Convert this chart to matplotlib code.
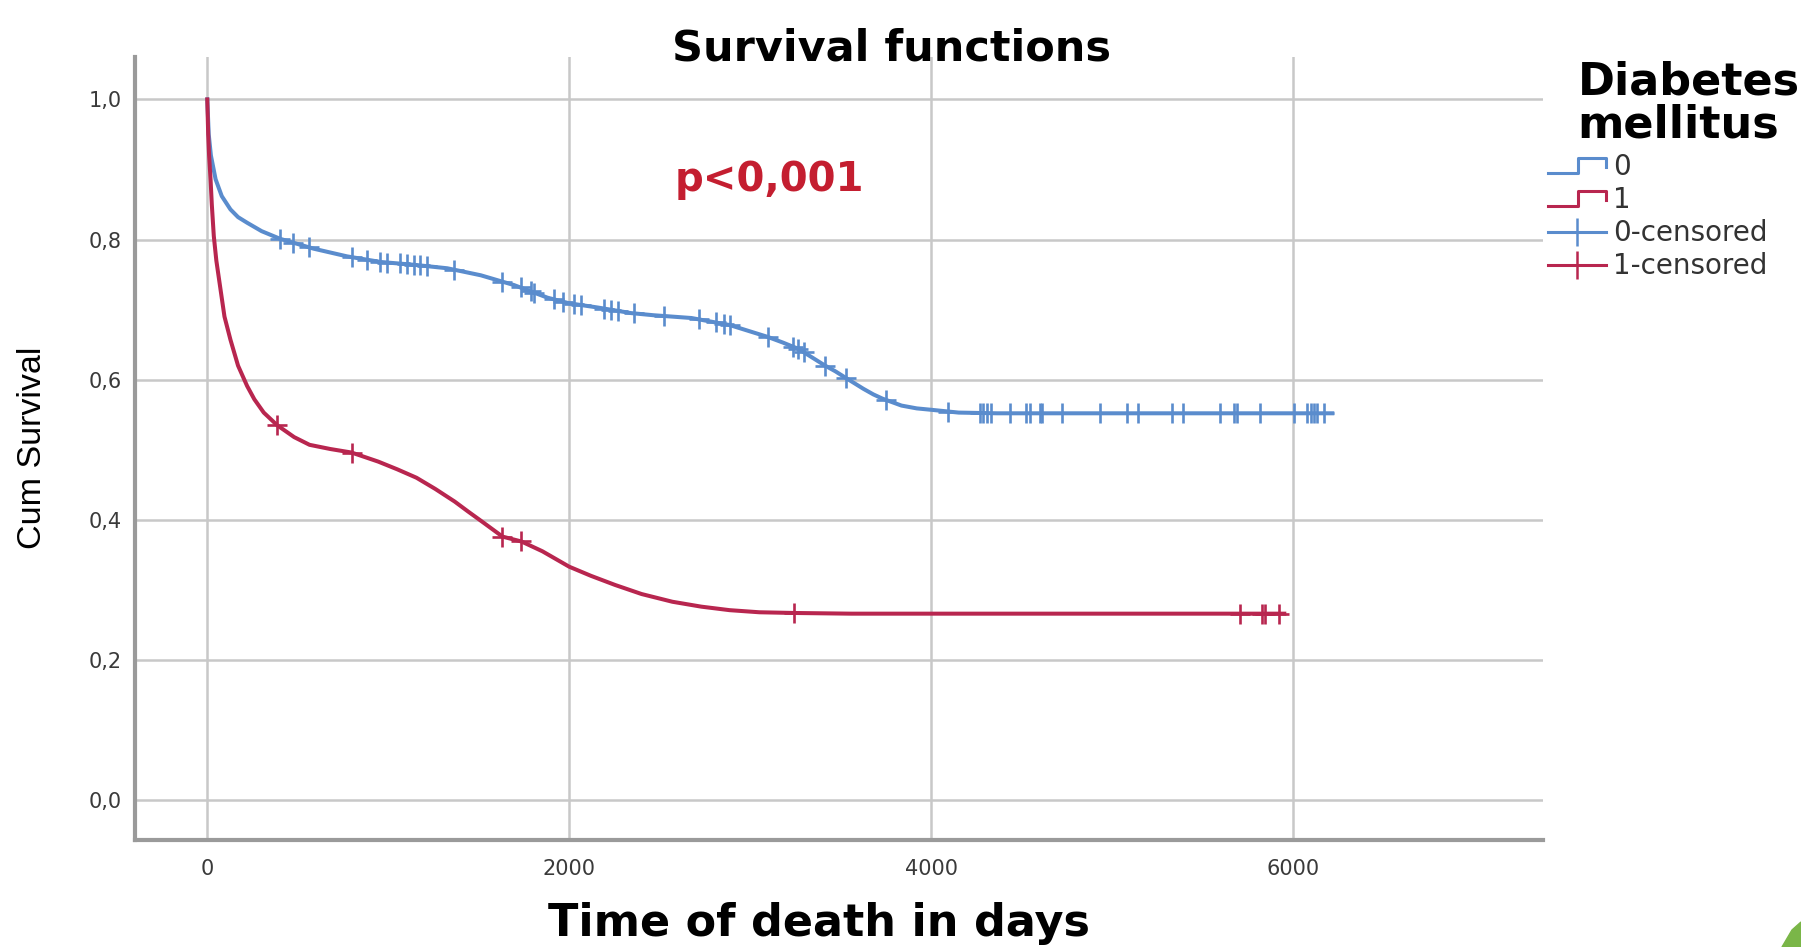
import matplotlib
matplotlib.use("Agg")
import matplotlib.pyplot as plt
from matplotlib.lines import Line2D
from matplotlib.patches import Polygon
from matplotlib.legend_handler import HandlerBase
#------------------------

# survival curve, Diabetes mellitus = 0 (blue)
t0 = [0, 8, 20, 46, 80, 128, 170, 220, 300, 403, 587, 772, 957, 1141, 1326, 1511,
      1695, 1880, 2000, 2157, 2342, 2464, 2675, 2886, 3097, 3180, 3266, 3414, 3470,
      3519, 3625, 3680, 3730, 3836, 3920, 4000, 4152, 4363, 6216]
s0 = [1.0, 0.95, 0.92, 0.886, 0.862, 0.843, 0.832, 0.824, 0.812, 0.801, 0.787,
      0.776, 0.768, 0.764, 0.759, 0.749, 0.735, 0.717, 0.709, 0.703, 0.695, 0.692,
      0.688, 0.678, 0.661, 0.653, 0.644, 0.620, 0.612, 0.604, 0.587, 0.579, 0.573,
      0.563, 0.559, 0.557, 0.553, 0.552, 0.552]

# censored cases, group 0
ct0 = [403, 476, 560, 800, 882, 957, 994, 1067, 1104, 1141, 1178, 1215, 1363, 1631,
       1732, 1788, 1806, 1917, 1963, 2028, 2065, 2194, 2231, 2268, 2360, 2526, 2717,
       2812, 2854, 2886, 3097, 3234, 3266, 3297, 3414, 3530, 3751, 4092, 4268, 4286,
       4308, 4332, 4434, 4526, 4545, 4600, 4610, 4720, 4933, 5080, 5145, 5330, 5394,
       5597, 5671, 5690, 5819, 6004, 6078, 6097, 6115, 6134, 6171]
cs0 = [0.801, 0.795, 0.789, 0.775, 0.771, 0.768, 0.767, 0.766, 0.765, 0.764, 0.763,
       0.762, 0.757, 0.740, 0.732, 0.726, 0.724, 0.715, 0.711, 0.708, 0.706, 0.701,
       0.700, 0.698, 0.695, 0.691, 0.686, 0.682, 0.680, 0.678, 0.661, 0.647, 0.644,
       0.639, 0.620, 0.602, 0.571, 0.554, 0.552, 0.552, 0.552, 0.552, 0.552, 0.552,
       0.552, 0.552, 0.552, 0.552, 0.552, 0.552, 0.552, 0.552, 0.552, 0.552, 0.552,
       0.552, 0.552, 0.552, 0.552, 0.552, 0.552, 0.552, 0.552]

# survival curve, Diabetes mellitus = 1 (red)
t1 = [0, 5, 10, 18, 25, 36, 50, 73, 95, 128, 170, 220, 260, 312, 386, 480, 565,
      680, 797, 945, 1050, 1156, 1260, 1367, 1440, 1515, 1631, 1736, 1852, 2000,
      2120, 2253, 2400, 2570, 2730, 2886, 3050, 3240, 3557, 5951]
s1 = [1.0, 0.95, 0.92, 0.886, 0.85, 0.805, 0.77, 0.729, 0.69, 0.657, 0.62, 0.591,
      0.572, 0.553, 0.535, 0.518, 0.507, 0.501, 0.496, 0.483, 0.472, 0.460, 0.444,
      0.426, 0.412, 0.398, 0.376, 0.369, 0.355, 0.333, 0.320, 0.307, 0.294, 0.283,
      0.276, 0.271, 0.268, 0.267, 0.266, 0.266]

# censored cases, group 1
ct1 = [386, 797, 1631, 1736, 3240, 5709, 5829, 5847, 5919]
cs1 = [0.535, 0.496, 0.376, 0.370, 0.267, 0.266, 0.266, 0.266, 0.266]

xticks = [0, 2000, 4000, 6000]
xlabels = ['0', '2000', '4000', '6000']
yticks = [0.0, 0.2, 0.4, 0.6, 0.8, 1.0]
ylabels = ['0,0', '0,2', '0,4', '0,6', '0,8', '1,0']
legend_labels = ['0', '1', '0-censored', '1-censored']

blue = '#5a8ccd'
red = '#b8264f'


class StepHandler(HandlerBase):
    # little step icon like the SPSS legend
    def create_artists(self, legend, orig_handle, xdescent, ydescent,
                       width, height, fontsize, trans):
        x0 = -xdescent
        y0 = -ydescent
        xs = [x0, x0 + width * 0.52, x0 + width * 0.52, x0 + width, x0 + width]
        ys = [y0 + height * 0.1, y0 + height * 0.1, y0 + height * 0.9,
              y0 + height * 0.9, y0 + height * 0.45]
        ln = Line2D(xs, ys, color=orig_handle.get_color(),
                    lw=orig_handle.get_linewidth())
        ln.set_transform(trans)
        return [ln]


fig = plt.figure(figsize=(18.01, 9.47), dpi=100)
ax = fig.add_axes([0.0752, 0.1134, 0.7815, 0.826])

ax.plot(t0, s0, color=blue, lw=2.9, zorder=3, solid_joinstyle='round')
ax.plot(t1, s1, color=red, lw=2.9, zorder=3, solid_joinstyle='round')
ax.plot(ct0, cs0, ls='none', marker='+', ms=15, mew=1.9, color=blue, zorder=4)
ax.plot(ct1, cs1, ls='none', marker='+', ms=15, mew=1.9, color=red, zorder=4)

ax.set_xlim(-397, 7380)
ax.set_ylim(-0.0565, 1.06)
ax.set_xticks(xticks)
ax.set_xticklabels(xlabels)
ax.set_yticks(yticks)
ax.set_yticklabels(ylabels)
ax.tick_params(length=0, labelsize=15, labelcolor='#3a3a3a')
ax.tick_params(axis='x', pad=14)
ax.tick_params(axis='y', pad=10)

ax.set_axisbelow(True)
ax.grid(True, color='#c8c8c8', lw=1.8)
for side in ['top', 'right']:
    ax.spines[side].set_visible(False)
for side in ['left', 'bottom']:
    ax.spines[side].set_color('#9a9a9a')
    ax.spines[side].set_linewidth(3)

ax.text(3106, 0.885, 'p<0,001', color='#c41e30', fontsize=29,
        weight='bold', ha='center', va='center')

fig.text(0.495, 0.949, 'Survival functions', fontsize=31, weight='bold',
         ha='center', va='center')
fig.text(0.455, 0.0116, 'Time of death in days', fontsize=32, weight='bold',
         ha='center', va='baseline')
fig.text(0.0178, 0.527, 'Cum Survival', rotation=90, fontsize=24.5,
         family=['Liberation Sans Narrow', 'Liberation Sans', 'DejaVu Sans'],
         ha='center', va='center')

# legend
fig.text(0.876, 0.936, 'Diabetes\nmellitus', fontsize=32, weight='bold',
         ha='left', va='top', linespacing=1.0)
h0 = Line2D([], [], color=blue, lw=2.2)
h1 = Line2D([], [], color=red, lw=2.2)
c0 = Line2D([], [], color=blue, lw=2.2, marker='|', ms=20, mew=1.8)
c1 = Line2D([], [], color=red, lw=2.2, marker='|', ms=20, mew=1.8)
fig.legend([h0, h1, c0, c1], legend_labels,
           handler_map={h0: StepHandler(), h1: StepHandler()},
           loc='upper left', bbox_to_anchor=(0.8596, 0.838),
           bbox_transform=fig.transFigure, frameon=False, fontsize=20,
           labelcolor='#333333', handlelength=2.1, handletextpad=0.25,
           labelspacing=0.18, borderpad=0, borderaxespad=0, numpoints=1)

# green slide corner
fig.patches.append(Polygon([(1782 / 1801, 0.0), (1792 / 1801, 1 - 930 / 947),
                            (1.0, 1 - 922 / 947), (1.0, 0.0)],
                           closed=True, color='#7ab648',
                           transform=fig.transFigure, figure=fig))

fig.savefig('out.png', dpi=100)
